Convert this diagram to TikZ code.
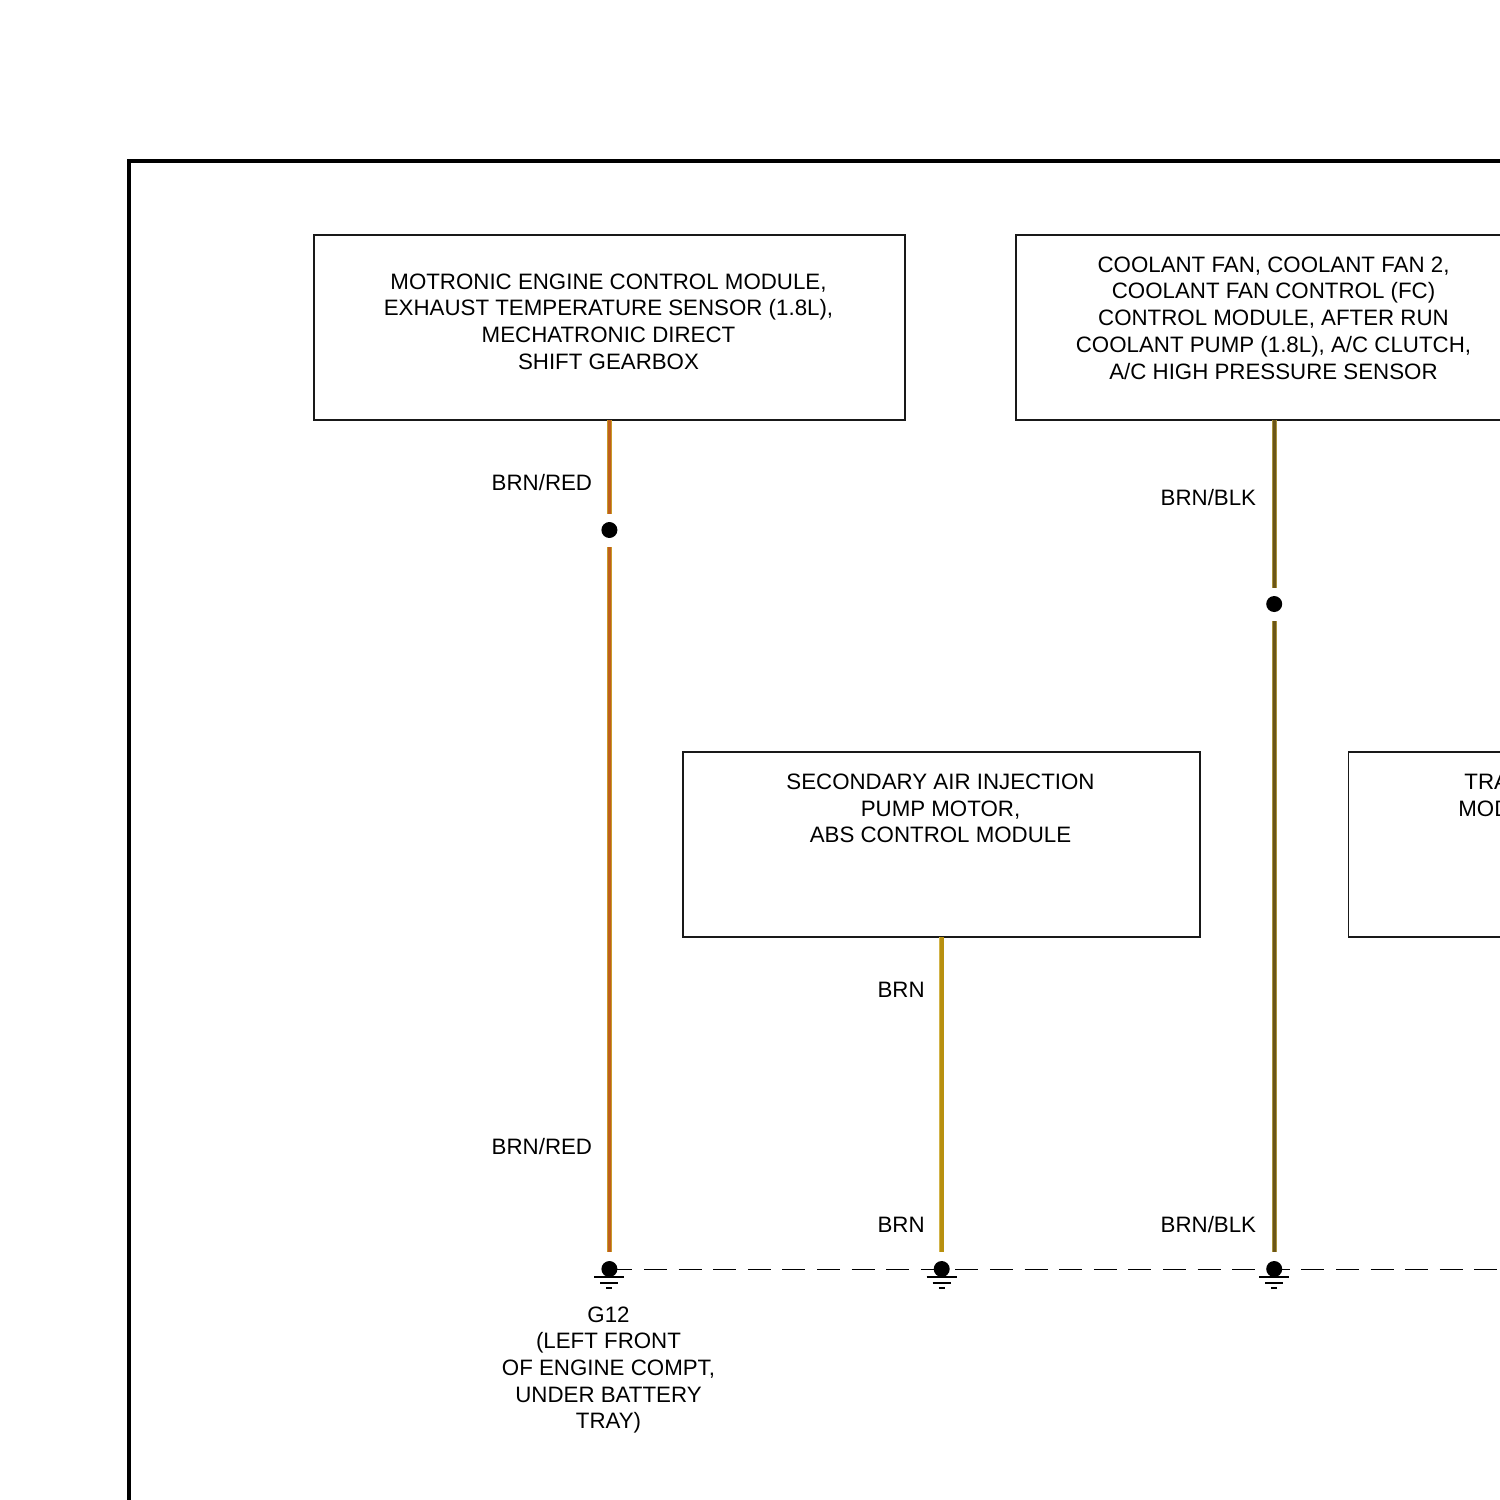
\documentclass[tikz,border=0pt]{standalone}
\usepackage{fontspec}
\setmainfont{Liberation Sans}
\definecolor{wireGold}{HTML}{C89A28}
\definecolor{wireBR}{HTML}{BF5F1C}
\definecolor{wireB}{HTML}{B8900F}
\definecolor{wireBK}{HTML}{6B5518}
\definecolor{wireEdge}{HTML}{D2B44A}
\definecolor{wireEdgeDark}{HTML}{A8923A}
\tikzset{
  x=0.5pt,y=-0.5pt,
  unit box/.style={draw=black!90,line width=0.55pt,inner sep=0pt,outer sep=0pt,minimum height=92.5pt},
  box text/.style={font=\fontsize{11.15}{13.35}\selectfont,align=center,inner sep=0pt},
  wire label/.style={font=\fontsize{11.15}{13.35}\selectfont,inner sep=0pt,anchor=east},
  splice/.style={circle,fill=black,draw=none,minimum size=8pt,inner sep=0pt,outer sep=0pt},
  brnred/.style={draw=wireGold,line width=0.4pt,double=wireBR,double distance=1.9pt},
  brn/.style={draw=wireEdge,line width=0.4pt,double=wireB,double distance=1.9pt},
  brnblk/.style={draw=wireEdgeDark,line width=0.4pt,double=wireBK,double distance=1.7pt},
  bus/.style={line width=0.5pt,draw=black,dash pattern=on 11.5pt off 5.8pt},
  earth/.style={line width=0.75pt,draw=black},
}
\newcommand{\earthmark}[1]{%
  \draw[earth] ([shift={(-15,8)}]#1.center) -- ([shift={(15,8)}]#1.center);
  \draw[earth] ([shift={(-9,14)}]#1.center) -- ([shift={(9,14)}]#1.center);
  \draw[earth] ([shift={(-3,19)}]#1.center) -- ([shift={(3,19)}]#1.center);
}
\begin{document}
\begin{tikzpicture}
\useasboundingbox (0,0) rectangle (1500,1500);
\clip (0,0) rectangle (1500,1500);
\fill[white] (0,0) rectangle (1500,1500);
% frame
\draw[black,line width=2pt] (129,1560) -- (129,161) -- (1560,161);
% unit boxes
\node[unit box,minimum width=295.5pt] (motronic) at (609.5,327.5) {};
\node[unit box,minimum width=258pt] (coolant) at (1274,327.5) {};
\node[unit box,minimum width=258.5pt] (secondary) at (941.5,844.5) {};
\node[unit box,minimum width=300pt] (trans) at (1648.5,844.5) {};
% box texts
\node[box text] (motronictext) at (608.5,321.5) {MOTRONIC ENGINE CONTROL MODULE,\\EXHAUST TEMPERATURE SENSOR (1.8L),\\MECHATRONIC DIRECT\\SHIFT GEARBOX};
\node[box text] (coolanttext) at (1273.5,318) {COOLANT FAN, COOLANT FAN 2,\\COOLANT FAN CONTROL (FC)\\CONTROL MODULE, AFTER RUN\\COOLANT PUMP (1.8L), A/C CLUTCH,\\A/C HIGH PRESSURE SENSOR};
\node[box text] (secondarytext) at (940.5,808.5) {SECONDARY AIR INJECTION\\PUMP MOTOR,\\ABS CONTROL MODULE};
\node[box text,anchor=west] (tratext) at (1464,781.5) {TRA};
\node[box text,anchor=west] (modtext) at (1458,808.5) {MOD};
% splices and grounds
\node[splice] (s1) at (609.4,530) {};
\node[splice] (s2) at (1274.2,604) {};
\node[splice] (g1) at (609.4,1269) {};
\node[splice] (g2) at (941.7,1269) {};
\node[splice] (g3) at (1274.2,1269) {};
\coordinate (busend) at (1560,1269);
% wire ends leave a white gap round the dots
\draw[brnred] (motronic.south -| s1) -- ([yshift=8pt]s1.center);
\draw[brnred] ([yshift=-8.5pt]s1.center) -- ([yshift=8.5pt]g1.center);
\draw[brn] (secondary.south -| g2) -- ([yshift=8.5pt]g2.center);
\draw[brnblk] (coolant.south -| s2) -- ([yshift=8pt]s2.center);
\draw[brnblk] ([yshift=-8.5pt]s2.center) -- ([yshift=8.5pt]g3.center);
\draw[bus] (g1.center) -- (busend);
\earthmark{g1}\earthmark{g2}\earthmark{g3}
% labels
\node[wire label] (l1) at (592.5,483) {BRN/RED};
\node[wire label] (l2) at (592.5,1147) {BRN/RED};
\node[wire label] (l3) at (925,989.5) {BRN};
\node[wire label] (l4) at (925,1224.5) {BRN};
\node[wire label] (l5) at (1256.5,498) {BRN/BLK};
\node[wire label] (l6) at (1256.5,1225) {BRN/BLK};
\node[box text] (gtext) at (608.5,1370) {G12\\(LEFT FRONT\\OF ENGINE COMPT,\\UNDER BATTERY\\TRAY)};
\end{tikzpicture}
\end{document}
